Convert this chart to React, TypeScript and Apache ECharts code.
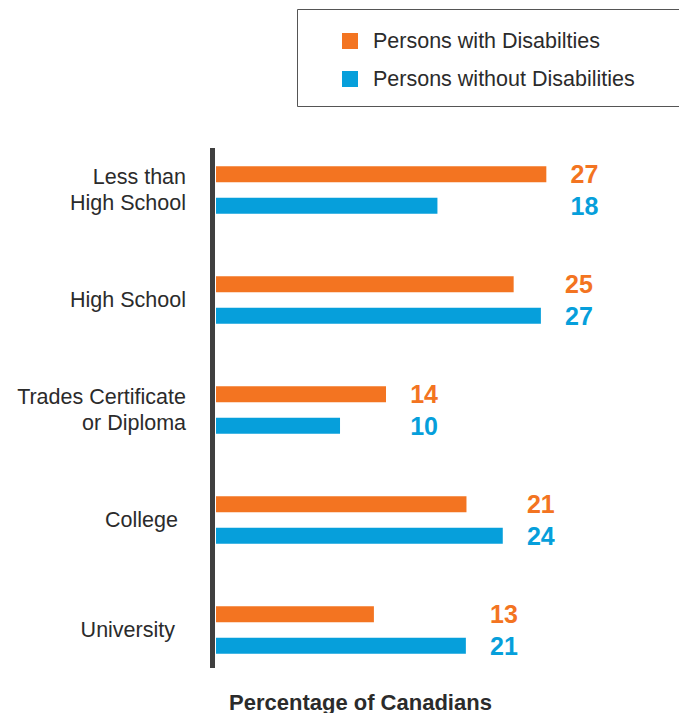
import React, { useEffect, useRef } from "react";
import * as echarts from "echarts";

const categories = ["Less than\nHigh School", "High School", "Trades Certificate\nor Diploma", "College", "University"];
const withDisabilities = [27.3, 24.6, 14.05, 20.7, 13.05];
const withoutDisabilities = [18.3, 26.85, 10.25, 23.7, 20.65];
const seriesNames = ["Persons with Disabilties", "Persons without Disabilities"];
const axisTitle = "Percentage of Canadians";

const ORANGE = "#f37421";
const BLUE = "#069fdb";
const TEXT = "#2b2b2b";
const GRID_LEFT = 216;
const GRID_WIDTH = 363;
const X_MAX = 30;
const PPU = GRID_WIDTH / X_MAX;
const catPad: Record<string, number> = { College: 8, University: 11 };

export default function App() {
  const ref = useRef<HTMLDivElement>(null);
  useEffect(() => {
    if (!ref.current) return;
    const chart = echarts.init(ref.current, null, { renderer: "svg" });
    const groupMax = categories.map((_, i) => Math.max(withDisabilities[i], withoutDisabilities[i]));
    const mk = (vals: number[], color: string) =>
      vals.map((v, i) => ({
        value: v,
        label: {
          show: true,
          position: "right",
          align: "right",
          distance: (groupMax[i] - v) * PPU + 52,
          color,
        },
      }));
    const labelFont = {
      fontFamily: "'Liberation Sans Narrow', 'Liberation Sans', Arial, sans-serif",
      fontSize: 25,
      fontWeight: "bold",
      formatter: (p: any) => String(Math.round(p.value)),
    };
    chart.setOption({
      animation: false,
      textStyle: { fontFamily: "'Liberation Sans', Arial, sans-serif" },
      grid: { left: GRID_LEFT, width: GRID_WIDTH, top: 135, height: 550 },
      xAxis: { type: "value", min: 0, max: X_MAX, show: false },
      yAxis: {
        type: "category",
        inverse: true,
        data: categories,
        axisLine: { show: false },
        axisTick: { show: false },
        splitLine: { show: false },
        axisLabel: {
          margin: 30,
          color: TEXT,
          fontSize: 21.5,
          lineHeight: 26,
          align: "right",
          formatter: (v: string) => (catPad[v] ? `{p${catPad[v]}|${v}}` : v),
          rich: {
            p8: { padding: [0, 8, 0, 0], fontSize: 21.5, color: TEXT },
            p11: { padding: [0, 11, 0, 0], fontSize: 21.5, color: TEXT },
          },
        },
      },
      legend: {
        orient: "vertical",
        left: 337,
        top: 25,
        itemWidth: 16,
        itemHeight: 16,
        itemGap: 16,
        icon: "rect",
        data: seriesNames,
        textStyle: { fontSize: 21.5, color: TEXT, padding: [0, 0, 0, 10] },
      },
      title: {
        text: axisTitle,
        left: 229,
        top: 691,
        padding: 0,
        textStyle: { fontSize: 22, fontWeight: "bold", color: TEXT, fontFamily: "'Liberation Sans', Arial, sans-serif" },
      },
      series: [
        {
          name: seriesNames[0],
          type: "bar",
          barWidth: 16,
          barGap: "97%",
          itemStyle: { color: ORANGE },
          label: labelFont,
          data: mk(withDisabilities, ORANGE),
        },
        {
          name: seriesNames[1],
          type: "bar",
          barWidth: 16,
          barGap: "97%",
          itemStyle: { color: BLUE },
          label: labelFont,
          data: mk(withoutDisabilities, BLUE),
        },
      ],
      graphic: [
        {
          type: "rect",
          shape: { x: 297.5, y: 9.5, width: 420, height: 97 },
          style: { fill: "none", stroke: "#555", lineWidth: 1 },
        },
        {
          type: "line",
          shape: { x1: 212.5, y1: 148, x2: 212.5, y2: 668 },
          style: { stroke: "#3f3f3f", lineWidth: 5 },
        },
      ],
    });
    return () => chart.dispose();
  }, []);
  return (
    <div
      ref={ref}
      style={{ position: "fixed", left: 0, top: 0, width: 679, height: 713, background: "#fff" }}
    />
  );
}
